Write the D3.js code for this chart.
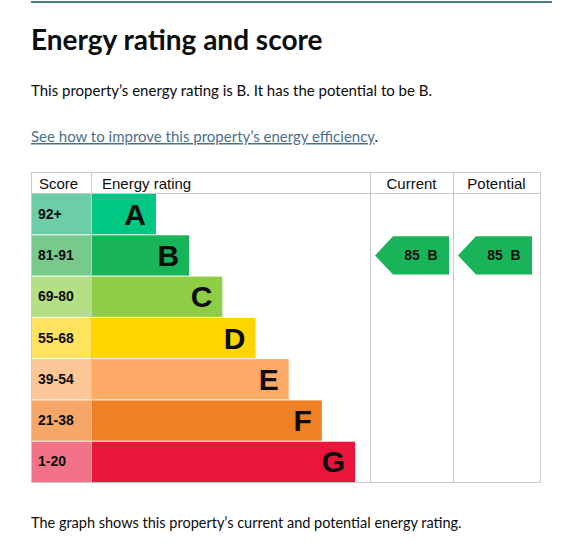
<!DOCTYPE html>
<html><head><meta charset="utf-8">
<script src="https://cdn.jsdelivr.net/npm/d3@7"></script>
<style>body{margin:0;background:#fff}</style></head>
<body><svg id="c" width="567" height="552"></svg>
<script>
const bands = ["A","B","C","D","E","F","G"];
const ranges = ["92+","81-91","69-80","55-68","39-54","21-38","1-20"];
const bandMin = [92,81,69,55,39,21,1];
const currentScore = 85, currentBand = "B";
const potentialScore = 85, potentialBand = "B";
const barColors = ["#00c781","#19b459","#8dce46","#ffd500","#fcaa65","#ef8023","#e9153b"];
const scoreColors = ["#6ccda6","#78c98c","#b5df84","#ffe25e","#fdc696","#f4a766","#f27389"];

const svg = d3.select("#c");
const font = "Liberation Sans, Arial, sans-serif";
const gfont = "Lato, 'Noto Sans', sans-serif";
svg.append("rect").attr("x",31).attr("y",1).attr("width",521).attr("height",2).attr("fill","#4d7c8d");
svg.append("text").attr("x",31).attr("y",50).attr("font-family",gfont).attr("font-weight",700).attr("font-size",28).attr("fill","#0b0c0c").text("Energy rating and score");
svg.append("text").attr("x",31).attr("y",96).attr("font-family",gfont).attr("font-size",15).attr("fill","#0b0c0c").text("This property’s energy rating is B. It has the potential to be B.");
const link = svg.append("text").attr("x",31).attr("y",142).attr("font-family",gfont).attr("font-size",15);
link.append("tspan").attr("fill","#4c6f8c").attr("text-decoration","underline").text("See how to improve this property’s energy efficiency");
link.append("tspan").attr("fill","#0b0c0c").text(".");
svg.append("text").attr("x",31).attr("y",528).attr("font-family",gfont).attr("font-size",14.5).attr("fill","#0b0c0c").text("The graph shows this property’s current and potential energy rating.");

const T={x0:31,x1:540,top:172,head:193,bot:482,c1:91,c2:370,c3:453};
const y = d3.scaleBand().domain(bands).range([T.head,T.bot]).padding(0);
const xw = d3.scaleLinear().domain([0,6]).range([64,263]); // bar width by index
const g = svg.append("g");
const grid="#c8c8c8";
g.append("rect").attr("x",T.x0+.5).attr("y",T.top+.5).attr("width",T.x1-T.x0).attr("height",T.bot-T.top).attr("fill","none").attr("stroke",grid);
g.append("line").attr("x1",T.x0).attr("x2",T.x1).attr("y1",T.head+.5).attr("y2",T.head+.5).attr("stroke",grid);
[T.c1,T.c2,T.c3].forEach(x=>g.append("line").attr("x1",x+.5).attr("x2",x+.5).attr("y1",T.top).attr("y2",T.bot).attr("stroke",grid));
const hd=[["Score",T.x0+8],["Energy rating",T.c1+11]];
hd.forEach(h=>g.append("text").attr("x",h[1]).attr("y",189).attr("font-family",font).attr("font-size",15).attr("fill","#0b0c0c").text(h[0]));
[["Current",(T.c2+T.c3)/2],["Potential",(T.c3+T.x1)/2]].forEach(h=>g.append("text").attr("x",h[1]).attr("y",189).attr("text-anchor","middle").attr("font-family",font).attr("font-size",15).attr("fill","#0b0c0c").text(h[0]));

bands.forEach((b,i)=>{
  g.append("rect").attr("x",T.x0+1).attr("y",y(b)+1).attr("width",T.c1-T.x0-1).attr("height",y.bandwidth()-1).attr("fill",scoreColors[i]);
  g.append("text").attr("x",T.x0+7).attr("y",y(b)+y.bandwidth()/2+5).attr("font-family",font).attr("font-weight",700).attr("font-size",14).attr("fill","#0b0c0c").text(ranges[i]);
  const w=xw(i);
  g.append("rect").attr("x",T.c1+1).attr("y",y(b)+1).attr("width",w).attr("height",y.bandwidth()-1).attr("fill",barColors[i]);
  g.append("text").attr("x",T.c1+1+w-10).attr("y",y(b)+y.bandwidth()/2+11).attr("text-anchor","end").attr("font-family",font).attr("font-weight",700).attr("font-size",30).attr("fill","#0b0c0c").text(b);
});
function arrow(x0,x1,score,band){
  const i=bands.indexOf(band), yt=y(band)+2, h=y.bandwidth()-3;
  const p=d3.path(); p.moveTo(x0,yt+h/2); p.lineTo(x0+18,yt); p.lineTo(x1,yt); p.lineTo(x1,yt+h); p.lineTo(x0+18,yt+h); p.closePath();
  g.append("path").attr("d",p.toString()).attr("fill",barColors[i]);
  g.append("text").attr("x",(x0+18+x1)/2).attr("y",yt+h/2+5).attr("text-anchor","middle").attr("font-family",font).attr("font-weight",700).attr("font-size",14).attr("fill","#0b0c0c").attr("xml:space","preserve").text(score+"  "+band);
}
arrow(375,449,currentScore,currentBand);
arrow(458,532,potentialScore,potentialBand);
</script></body></html>
